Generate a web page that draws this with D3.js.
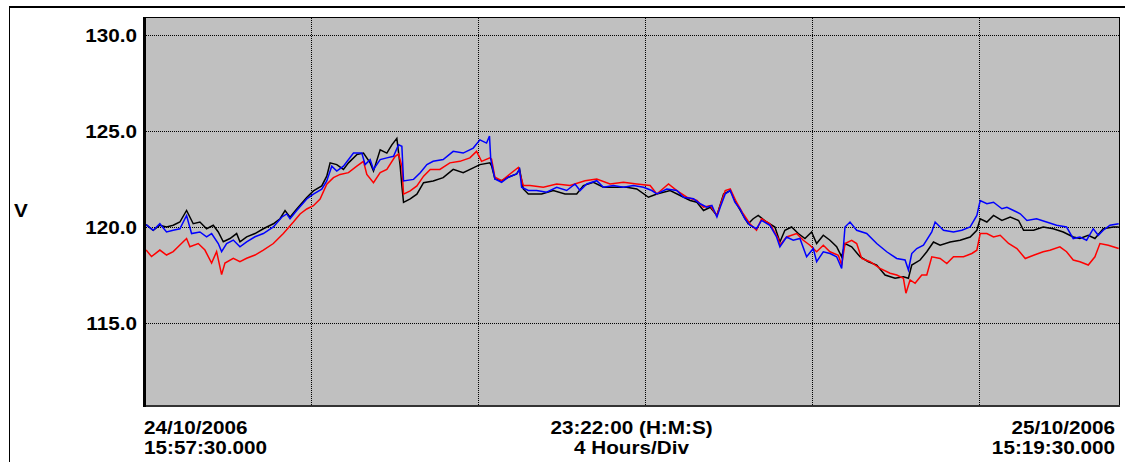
<!DOCTYPE html>
<html>
<head>
<meta charset="utf-8">
<script src="https://cdn.jsdelivr.net/npm/d3@7"></script>
<style>
  html, body { margin: 0; padding: 0; background: #fff; }
  svg { display: block; }
  text { font-family: "Liberation Sans", Arial, Helvetica, sans-serif; font-weight: bold; font-size: 19px; fill: #000; }
</style>
</head>
<body>
<svg id="chart" width="1125" height="462"></svg>
<script>
// Recording window: 24/10/2006 15:57:30 -> 25/10/2006 15:19:30 (23 h 22 min)
const spanHours = 23 + 22 / 60;
const hoursPerDiv = 4;

// Y axis (volts)
const yTicks = [115, 120, 125, 130];
const yUnit = "V";

// Footer labels
const startLabel = ["24/10/2006", "15:57:30.000"];
const spanLabel = ["23:22:00 (H:M:S)", "4 Hours/Div"];
const endLabel = ["25/10/2006", "15:19:30.000"];

// Phase voltages: [hours since start, volts]
const phaseBlack = [
  [0.05,120.12],[0.22,119.83],[0.38,120.09],[0.54,120.0],[0.70,120.09],[0.86,120.26],[1.02,120.86],[1.18,120.17],
  [1.34,120.26],[1.50,119.91],[1.66,120.09],[1.78,119.74],[1.90,119.23],[2.06,119.4],[2.22,119.66],[2.30,119.23],
  [2.46,119.49],[2.66,119.66],[2.86,119.91],[3.10,120.17],[3.26,120.43],[3.38,120.86],[3.50,120.51],[3.66,120.94],
  [3.90,121.54],[4.06,121.88],[4.26,122.14],[4.38,122.65],[4.46,123.34],[4.62,123.25],[4.78,123.0],[4.90,123.34],
  [5.10,123.77],[5.26,123.85],[5.42,123.34],[5.50,122.91],[5.66,124.02],[5.82,123.85],[5.94,124.28],[6.06,124.62],
  [6.14,123.17],[6.18,122.14],[6.22,121.28],[6.38,121.46],[6.54,121.71],[6.70,122.31],[6.93,122.4],[7.17,122.57],
  [7.41,123.0],[7.65,122.83],[7.89,123.08],[8.05,123.25],[8.29,123.34],[8.33,123.19],[8.41,122.5],[8.57,122.41],
  [8.73,122.59],[8.93,122.76],[9.00,123.02],[9.09,121.98],[9.21,121.72],[9.53,121.72],[9.81,121.9],[10.09,121.72],
  [10.37,121.72],[10.53,122.16],[10.77,122.33],[11.01,122.07],[11.33,122.07],[11.57,122.07],[11.81,121.98],[12.09,121.55],
  [12.29,121.72],[12.61,121.9],[12.85,121.64],[13.09,121.38],[13.25,121.29],[13.41,120.86],[13.57,121.03],[13.73,120.6],
  [13.89,121.72],[14.05,121.9],[14.20,121.21],[14.36,120.6],[14.48,120.17],[14.60,120.43],[14.72,120.6],[14.92,120.26],
  [15.12,120.0],[15.24,119.22],[15.36,119.83],[15.52,120.0],[15.68,119.66],[15.84,119.4],[16.00,119.74],[16.12,119.14],
  [16.28,119.57],[16.44,119.31],[16.60,118.97],[16.72,118.45],[16.80,119.14],[16.96,118.97],[17.16,118.45],[17.36,118.19],
  [17.56,118.02],[17.76,117.5],[18.00,117.33],[18.20,117.41],[18.32,117.33],[18.40,118.02],[18.60,118.28],[18.76,118.71],
  [18.92,119.22],[19.08,119.05],[19.32,119.22],[19.56,119.31],[19.80,119.48],[19.96,119.83],[20.04,120.43],[20.20,120.26],
  [20.36,120.6],[20.56,120.34],[20.76,120.52],[20.96,120.34],[21.08,119.83],[21.32,119.83],[21.55,120.0],[21.79,119.91],
  [22.03,119.74],[22.27,119.48],[22.43,119.4],[22.63,119.57],[22.79,119.4],[22.99,119.91],[23.23,120.0],[23.36,120.0]
];

const phaseRed = [
  [0.05,118.8],[0.18,118.46],[0.38,118.8],[0.54,118.54],[0.70,118.72],[0.86,119.06],[1.02,119.4],[1.10,118.97],
  [1.30,119.14],[1.46,118.8],[1.62,118.12],[1.74,118.72],[1.86,117.52],[1.94,118.12],[2.14,118.37],[2.30,118.2],
  [2.46,118.37],[2.66,118.54],[2.86,118.8],[3.10,119.14],[3.34,119.66],[3.58,120.26],[3.74,120.68],[3.90,120.94],
  [4.06,121.11],[4.22,121.46],[4.38,122.23],[4.54,122.57],[4.70,122.74],[4.90,122.83],[5.10,123.17],[5.26,123.42],
  [5.34,122.74],[5.50,122.31],[5.66,122.83],[5.82,123.0],[6.02,123.68],[6.10,123.8],[6.18,123.17],[6.22,121.71],
  [6.38,121.88],[6.54,122.14],[6.70,122.65],[6.86,123.0],[7.09,123.0],[7.33,123.34],[7.57,123.42],[7.81,123.6],
  [7.97,123.94],[8.09,123.42],[8.29,123.6],[8.33,123.53],[8.41,122.59],[8.57,122.41],[8.77,122.76],[8.97,123.1],
  [9.09,122.16],[9.25,122.16],[9.57,122.07],[9.89,122.24],[10.21,122.16],[10.57,122.41],[10.85,122.5],[11.17,122.24],
  [11.49,122.33],[11.81,122.24],[12.13,122.16],[12.29,121.72],[12.57,122.24],[12.77,121.9],[13.01,121.55],[13.25,121.38],
  [13.41,121.03],[13.57,121.12],[13.73,120.6],[13.93,121.9],[14.05,121.98],[14.20,121.29],[14.36,120.69],[14.52,120.17],
  [14.68,119.83],[14.80,120.43],[15.00,120.17],[15.20,119.4],[15.24,119.05],[15.40,119.48],[15.64,119.66],[15.80,119.31],
  [15.96,119.05],[16.12,118.71],[16.28,119.05],[16.44,118.71],[16.64,118.53],[16.72,118.02],[16.80,119.14],[16.96,119.31],
  [17.08,119.14],[17.20,118.36],[17.40,118.19],[17.64,117.84],[17.88,117.59],[18.04,117.5],[18.20,117.33],[18.26,116.55],
  [18.36,117.24],[18.48,117.07],[18.64,117.5],[18.76,117.5],[18.88,118.45],[19.08,118.36],[19.24,118.1],[19.40,118.45],
  [19.64,118.45],[19.84,118.62],[19.96,118.79],[20.04,119.66],[20.20,119.66],[20.36,119.48],[20.52,119.57],[20.72,119.14],
  [20.92,118.88],[21.12,118.36],[21.32,118.53],[21.55,118.71],[21.71,118.79],[21.95,118.97],[22.11,118.71],[22.27,118.28],
  [22.43,118.19],[22.63,118.02],[22.79,118.45],[22.91,119.14],[23.11,119.05],[23.36,118.88]
];

const phaseBlue = [
  [0.05,120.12],[0.22,119.83],[0.38,120.17],[0.54,119.74],[0.70,119.83],[0.86,119.91],[1.02,120.6],[1.14,119.66],
  [1.34,119.74],[1.50,119.49],[1.62,119.66],[1.78,119.14],[1.86,118.72],[1.98,119.14],[2.14,119.32],[2.30,118.97],
  [2.46,119.23],[2.66,119.49],[2.86,119.66],[3.10,120.0],[3.30,120.51],[3.42,120.68],[3.50,120.43],[3.66,120.86],
  [3.90,121.46],[4.06,121.71],[4.26,121.97],[4.38,122.4],[4.50,123.17],[4.62,122.91],[4.78,123.17],[5.02,123.85],
  [5.22,123.85],[5.30,123.25],[5.42,123.51],[5.50,123.0],[5.66,123.51],[5.82,123.6],[5.98,123.68],[6.10,124.28],
  [6.18,124.2],[6.22,122.4],[6.46,122.48],[6.62,122.83],[6.78,123.25],[6.93,123.42],[7.17,123.51],[7.41,123.94],
  [7.65,123.85],[7.89,124.11],[8.05,124.54],[8.21,124.37],[8.28,124.74],[8.31,123.53],[8.41,122.5],[8.57,122.33],
  [8.73,122.59],[8.93,122.76],[9.00,123.02],[9.05,122.07],[9.21,121.9],[9.41,121.9],[9.65,121.81],[9.89,122.07],
  [10.13,121.9],[10.33,122.24],[10.45,121.9],[10.61,122.24],[10.85,122.41],[11.01,122.07],[11.25,122.16],[11.49,122.07],
  [11.73,122.16],[11.97,122.07],[12.17,121.9],[12.29,121.72],[12.53,121.98],[12.77,121.9],[12.93,121.55],[13.17,121.47],
  [13.33,121.21],[13.49,121.03],[13.61,121.12],[13.73,120.52],[13.81,121.03],[13.93,121.72],[14.05,121.9],[14.16,121.29],
  [14.28,120.95],[14.40,120.43],[14.52,120.09],[14.68,119.91],[14.80,120.34],[15.00,120.09],[15.16,119.48],[15.24,118.97],
  [15.40,119.48],[15.56,119.31],[15.72,119.4],[15.88,118.45],[16.04,118.88],[16.12,118.19],[16.28,118.71],[16.44,118.62],
  [16.60,118.45],[16.72,117.84],[16.80,120.0],[16.92,120.26],[17.08,119.83],[17.32,119.66],[17.56,119.14],[17.80,118.71],
  [18.04,118.36],[18.24,118.28],[18.32,117.76],[18.40,118.62],[18.52,118.88],[18.68,119.05],[18.88,119.74],[18.96,120.26],
  [19.16,119.83],[19.40,119.74],[19.60,119.83],[19.80,120.0],[19.96,120.6],[20.04,121.38],[20.20,121.21],[20.36,121.29],
  [20.56,120.95],[20.68,121.03],[20.84,120.86],[21.00,120.69],[21.16,120.34],[21.39,120.43],[21.63,120.26],[21.87,120.09],
  [22.11,120.0],[22.27,119.4],[22.43,119.48],[22.59,119.31],[22.75,119.91],[22.87,119.57],[22.99,119.83],[23.15,120.09],
  [23.36,120.17]
];

const seriesList = [
  { name: "black", color: "#000000", data: phaseBlack },
  { name: "red",   color: "#ff0000", data: phaseRed },
  { name: "blue",  color: "#0000ff", data: phaseBlue }
];

// Layout
const plot = { left: 144, right: 1119, top: 17, bottom: 406 };
const textScaleX = 1.09;

const svg = d3.select("#chart");

const x = d3.scaleLinear().domain([0, spanHours]).range([plot.left, plot.right]);
const y = d3.scaleLinear().domain([115, 130]).range([323, 35]);

// Outer frame
svg.append("line").attr("x1", 9).attr("x2", 1125).attr("y1", 7).attr("y2", 7)
  .attr("stroke", "#000").attr("stroke-width", 2);
svg.append("line").attr("x1", 9.5).attr("x2", 9.5).attr("y1", 6).attr("y2", 462)
  .attr("stroke", "#000").attr("stroke-width", 1);

// Plot background
svg.append("rect")
  .attr("x", plot.left).attr("y", plot.top)
  .attr("width", plot.right - plot.left).attr("height", plot.bottom - plot.top)
  .attr("fill", "#c0c0c0");

svg.append("defs").append("clipPath").attr("id", "plotClip")
  .append("rect")
  .attr("x", plot.left + 2).attr("y", plot.top + 1)
  .attr("width", plot.right - plot.left - 2).attr("height", plot.bottom - plot.top - 1);

// Dotted grid
const grid = svg.append("g").attr("stroke", "#000").attr("stroke-width", 1)
  .attr("stroke-dasharray", "1,1");
grid.selectAll("line.h").data(yTicks).join("line").attr("class", "h")
  .attr("x1", plot.left + 2).attr("x2", plot.right)
  .attr("y1", d => Math.round(y(d)) + 0.5).attr("y2", d => Math.round(y(d)) + 0.5);
const xDivs = d3.range(hoursPerDiv, spanHours, hoursPerDiv);
grid.selectAll("line.v").data(xDivs).join("line").attr("class", "v")
  .attr("x1", d => Math.round(x(d)) + 0.5).attr("x2", d => Math.round(x(d)) + 0.5)
  .attr("y1", plot.top + 1).attr("y2", plot.bottom);

// Voltage traces
const line = d3.line().x(d => x(d[0])).y(d => y(d[1]));
const traces = svg.append("g").attr("clip-path", "url(#plotClip)");
traces.selectAll("path").data(seriesList).join("path")
  .attr("d", s => line(s.data))
  .attr("fill", "none")
  .attr("stroke", s => s.color)
  .attr("stroke-width", 1.5)
  .attr("stroke-linejoin", "miter");

// Plot borders
svg.append("line").attr("x1", plot.left).attr("x2", plot.right + 1)
  .attr("y1", plot.top + 0.5).attr("y2", plot.top + 0.5).attr("stroke", "#000").attr("stroke-width", 1);
svg.append("line").attr("x1", plot.right + 0.5).attr("x2", plot.right + 0.5)
  .attr("y1", plot.top).attr("y2", plot.bottom + 1).attr("stroke", "#000").attr("stroke-width", 1);
svg.append("line").attr("x1", plot.left).attr("x2", plot.right + 1)
  .attr("y1", plot.bottom).attr("y2", plot.bottom).attr("stroke", "#333").attr("stroke-width", 2);
svg.append("line").attr("x1", plot.left + 0.5).attr("x2", plot.left + 0.5)
  .attr("y1", plot.top).attr("y2", plot.bottom + 1).attr("stroke", "#000").attr("stroke-width", 3);

// Text helper with the slightly wide lettering
function label(xPos, yPos, str, anchor) {
  svg.append("g").attr("transform", `translate(${xPos},${yPos}) scale(${textScaleX},1)`)
    .append("text").attr("text-anchor", anchor).text(str);
}

// Y tick labels
yTicks.forEach(t => label(137, y(t) + 7, d3.format(".1f")(t), "end"));
label(14, 217, yUnit, "start");

// Footer
const lineY = [434, 454];
startLabel.forEach((s, i) => label(plot.left, lineY[i], s, "start"));
spanLabel.forEach((s, i) => label((plot.left + plot.right) / 2, lineY[i], s, "middle"));
endLabel.forEach((s, i) => label(1115, lineY[i], s, "end"));
</script>
</body>
</html>
